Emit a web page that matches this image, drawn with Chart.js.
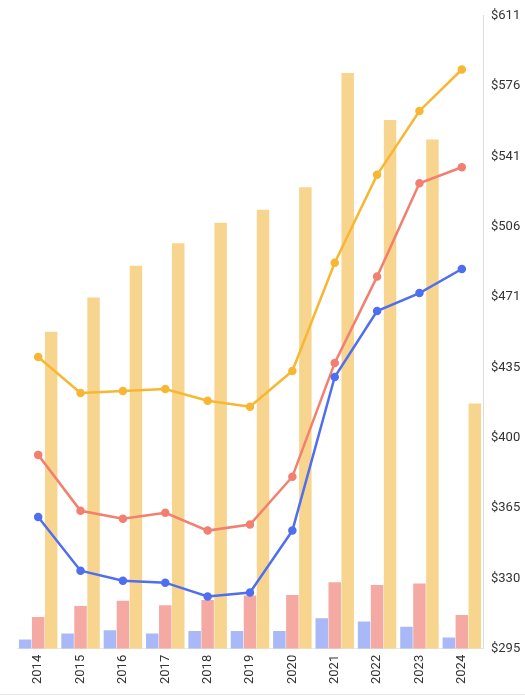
<!DOCTYPE html>
<html>
<head>
<meta charset="utf-8">
<script src="https://cdn.jsdelivr.net/npm/chart.js@4/dist/chart.umd.min.js"></script>
<style>
  html, body { margin: 0; padding: 0; background: #fff; }
  #wrap { position: relative; width: 525px; height: 695px; border-bottom: 1px solid #e6e6e6; box-sizing: border-box; }
</style>
</head>
<body>
<div id="wrap"><canvas id="c"></canvas></div>
<script>
const categories = ['2014','2015','2016','2017','2018','2019','2020','2021','2022','2023','2024'];

const blueLine   = [360.8, 334.0, 329.0, 328.0, 321.1, 323.1, 354.0, 430.7, 463.6, 472.6, 484.6];
const redLine    = [391.8, 363.9, 359.9, 362.9, 354.0, 357.0, 380.9, 437.7, 480.8, 527.4, 535.4];
const yellowLine = [440.7, 422.7, 423.7, 424.7, 418.8, 415.8, 433.7, 487.7, 531.6, 563.5, 584.2];

const blueBars   = [299.6, 302.6, 304.3, 302.6, 303.9, 303.9, 303.9, 310.3, 308.6, 306.0, 300.6];
const redBars    = [310.9, 316.4, 319.0, 316.7, 319.4, 321.6, 321.9, 328.2, 326.9, 327.6, 311.9];
const yellowBars = [453.3, 470.4, 486.2, 497.4, 507.7, 514.2, 525.4, 582.4, 559.0, 549.3, 417.5];

const axisMin = 295, axisMax = 611;
const tickCount = 9;

const ctx = document.getElementById('c');
new Chart(ctx, {
  data: {
    labels: categories,
    datasets: [
      { type: 'line', label: 'Blue', data: blueLine, borderColor: '#4f6ef0', backgroundColor: '#4f6ef0',
        borderWidth: 2.5, pointRadius: 3, pointHoverRadius: 3, tension: 0, order: 0 },
      { type: 'line', label: 'Red', data: redLine, borderColor: '#f27f70', backgroundColor: '#f27f70',
        borderWidth: 2.5, pointRadius: 3, pointHoverRadius: 3, tension: 0, order: 0 },
      { type: 'line', label: 'Yellow', data: yellowLine, borderColor: '#f7b733', backgroundColor: '#f7b733',
        borderWidth: 2.5, pointRadius: 3, pointHoverRadius: 3, tension: 0, order: 0 },
      { type: 'bar', label: 'Blue bars', data: blueBars, backgroundColor: '#a9b8f7', base: axisMin,
        categoryPercentage: 0.92, barPercentage: 0.96, order: 1 },
      { type: 'bar', label: 'Red bars', data: redBars, backgroundColor: '#f5a9a3', base: axisMin,
        categoryPercentage: 0.92, barPercentage: 0.96, order: 1 },
      { type: 'bar', label: 'Yellow bars', data: yellowBars, backgroundColor: '#f8d58e', base: axisMin,
        categoryPercentage: 0.92, barPercentage: 0.96, order: 1 }
    ]
  },
  options: {
    responsive: true,
    maintainAspectRatio: false,
    animation: false,
    layout: { padding: { top: 8, left: 17, right: 0, bottom: 4 } },
    plugins: { legend: { display: false }, tooltip: { enabled: false } },
    scales: {
      x: {
        grid: { display: false, drawTicks: false },
        border: { display: true, color: '#e8e8e8' },
        ticks: { color: '#333', font: { family: 'Roboto', size: 13 }, minRotation: 90, maxRotation: 90, padding: 6 }
      },
      y: {
        position: 'right',
        min: axisMin, max: axisMax,
        grid: { display: false, drawTicks: false },
        border: { display: true, color: '#dcdcdc' },
        afterBuildTicks: (scale) => {
          const t = [];
          for (let i = 0; i <= tickCount; i++) t.push({ value: axisMin + (axisMax - axisMin) * i / tickCount });
          scale.ticks = t;
        },
        afterFit: (scale) => { scale.width = 42; },
        ticks: {
          color: '#333', font: { family: 'Roboto', size: 13 }, padding: 8,
          callback: (v) => '$' + Math.round(v)
        }
      }
    }
  }
});
</script>
</body>
</html>
